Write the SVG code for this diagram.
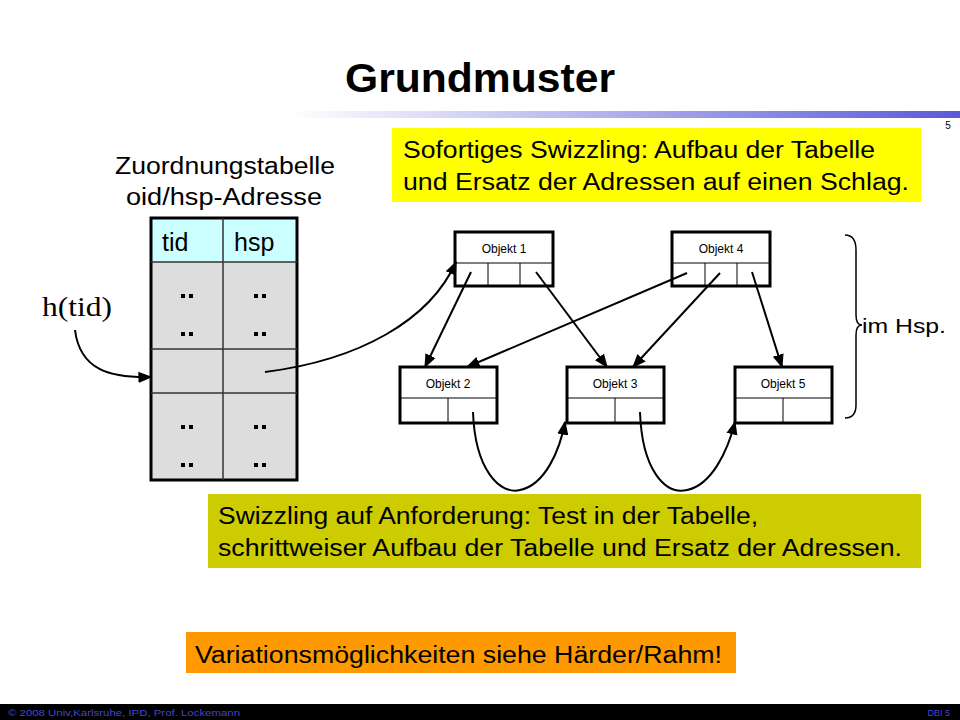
<svg xmlns="http://www.w3.org/2000/svg" width="960" height="720" viewBox="0 0 960 720">
<defs>
<linearGradient id="g" x1="0" x2="1"><stop offset="0.3" stop-color="#fff"/><stop offset="1" stop-color="#5a5ad8"/></linearGradient>
<marker id="a" viewBox="0 0 10 10" refX="9" refY="5" markerWidth="7" markerHeight="7" orient="auto"><path d="M0,1 L10,5 L0,9 z" fill="#000"/></marker>
<style>
text{font-family:"Liberation Sans",Arial,sans-serif}
.ob{fill:#fff;stroke:#000;stroke-width:3}
.d{stroke:#000;stroke-width:1}
.ol{font-size:12px;text-anchor:middle}
.c{fill:none;stroke:#000;stroke-width:2;marker-end:url(#a)}
.dt{fill:#000}
</style>
</defs>
<rect width="960" height="720" fill="#fff"/>
<text x="345" y="92" font-size="40" font-weight="bold" textLength="270" lengthAdjust="spacingAndGlyphs">Grundmuster</text>
<rect x="0" y="111" width="960" height="7" fill="url(#g)"/>
<text x="948" y="129" font-size="10" text-anchor="middle">5</text>
<text x="115" y="174" font-size="23" textLength="220" lengthAdjust="spacingAndGlyphs">Zuordnungstabelle</text>
<text x="126" y="205" font-size="23" textLength="196" lengthAdjust="spacingAndGlyphs">oid/hsp-Adresse</text>
<g id="table">
<rect x="151" y="218" width="146" height="44" fill="#ccffff"/>
<rect x="151" y="262" width="146" height="218" fill="#dddddd"/>
<rect x="151" y="218" width="146" height="262" fill="none" stroke="#000" stroke-width="3"/>
<path d="M151,262H297M151,349H297M151,393H297M223,218V480" stroke="#333" stroke-width="1.5"/>
<text x="162" y="251" font-size="25">tid</text>
<text x="234" y="251" font-size="25">hsp</text>
<g class="dt">
<rect x="181" y="294" width="4" height="4"/><rect x="189" y="294" width="4" height="4"/><rect x="254" y="294" width="4" height="4"/><rect x="262" y="294" width="4" height="4"/>
<rect x="181" y="332" width="4" height="4"/><rect x="189" y="332" width="4" height="4"/><rect x="254" y="332" width="4" height="4"/><rect x="262" y="332" width="4" height="4"/>
<rect x="181" y="425" width="4" height="4"/><rect x="189" y="425" width="4" height="4"/><rect x="254" y="425" width="4" height="4"/><rect x="262" y="425" width="4" height="4"/>
<rect x="181" y="463" width="4" height="4"/><rect x="189" y="463" width="4" height="4"/><rect x="254" y="463" width="4" height="4"/><rect x="262" y="463" width="4" height="4"/>
</g>
</g>
<text x="42" y="316" style="font-family:'Liberation Serif',serif" font-size="28" textLength="70" lengthAdjust="spacingAndGlyphs">h(tid)</text>
<g id="o1"><rect class="ob" x="455" y="232" width="98" height="54"/><path class="d" d="M455,263H553M488,263V286M520,263V286"/><text class="ol" x="504" y="253">Objekt 1</text></g>
<g id="o4"><rect class="ob" x="672" y="232" width="98" height="54"/><path class="d" d="M672,263H770M705,263V286M737,263V286"/><text class="ol" x="721" y="253">Objekt 4</text></g>
<g id="o2"><rect class="ob" x="400" y="367" width="97" height="56"/><path class="d" d="M400,398H497M448,398V423"/><text class="ol" x="448" y="388">Objekt 2</text></g>
<g id="o3"><rect class="ob" x="567" y="367" width="97" height="56"/><path class="d" d="M567,398H664M615,398V423"/><text class="ol" x="615" y="388">Objekt 3</text></g>
<g id="o5"><rect class="ob" x="735" y="367" width="97" height="56"/><path class="d" d="M735,398H832M783,398V423"/><text class="ol" x="783" y="388">Objekt 5</text></g>
<g id="connectors">
<path class="c" d="M75,330 C80,370 110,378 151,377"/>
<path class="c" d="M265,372 C360,360 430,320 456,262"/>
<path class="c" d="M471,272 L425,367"/>
<path class="c" d="M536,272 L607,367"/>
<path class="c" d="M687,273 L467,367"/>
<path class="c" d="M720,273 L633,367"/>
<path class="c" d="M752,272 L782,367"/>
<path class="c" d="M473,412 C475,470 500,495 520,490 C545,485 560,450 565,422"/>
<path class="c" d="M640,412 C642,470 665,495 687,490 C712,485 728,450 735,422"/>
</g>
<path d="M845,235 Q856,235 856,250 L856,315 Q856,325 862,325 Q856,325 856,335 L856,405 Q856,418 845,418" fill="none" stroke="#000" stroke-width="1.5"/>
<text x="862" y="333" font-size="21" textLength="84" lengthAdjust="spacingAndGlyphs">im Hsp.</text>
<rect x="392" y="128" width="529" height="74" fill="#ffff00"/>
<text x="403" y="158" font-size="23" textLength="472" lengthAdjust="spacingAndGlyphs">Sofortiges Swizzling: Aufbau der Tabelle</text>
<text x="403" y="190" font-size="23" textLength="506" lengthAdjust="spacingAndGlyphs">und Ersatz der Adressen auf einen Schlag.</text>
<rect x="208" y="494" width="713" height="74" fill="#cccc00"/>
<text x="218" y="524" font-size="23" textLength="540" lengthAdjust="spacingAndGlyphs">Swizzling auf Anforderung: Test in der Tabelle,</text>
<text x="218" y="556" font-size="23" textLength="684" lengthAdjust="spacingAndGlyphs">schrittweiser Aufbau der Tabelle und Ersatz der Adressen.</text>
<rect x="186" y="632" width="550" height="41" fill="#ff9900"/>
<text x="195" y="663" font-size="23" textLength="527" lengthAdjust="spacingAndGlyphs">Variationsmöglichkeiten siehe Härder/Rahm!</text>
<rect x="0" y="704" width="960" height="16" fill="#000"/>
<text x="8" y="716" font-size="9" fill="#4646c8" textLength="232" lengthAdjust="spacingAndGlyphs">© 2008 Univ,Karlsruhe, IPD, Prof. Lockemann</text>
<text x="950" y="716" font-size="9" fill="#4646c8" text-anchor="end">DBI 5</text>
</svg>
